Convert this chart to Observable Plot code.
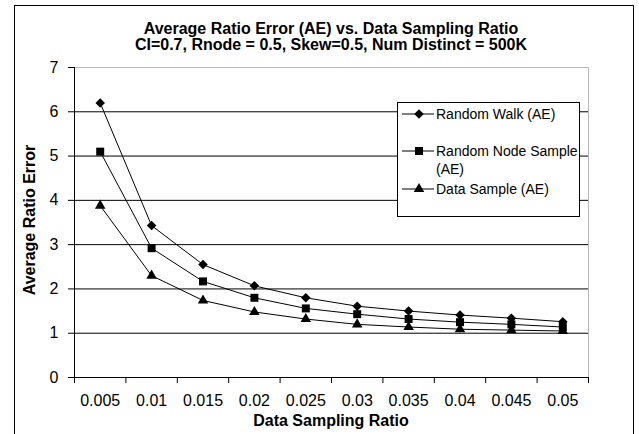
<!DOCTYPE html>
<html>
<head>
<meta charset="utf-8">
<script src="https://cdn.jsdelivr.net/npm/d3@7"></script>
<script src="https://cdn.jsdelivr.net/npm/@observablehq/plot@0.6"></script>
<style>
  html, body { margin: 0; padding: 0; background: #fff; }
  body { width: 639px; height: 434px; position: relative; overflow: hidden; font-family: "Liberation Sans", Arial, sans-serif; color: #000; }
  #frame { position: absolute; left: 14px; top: 5px; width: 620px; height: 460px; border: 1px solid #000; box-sizing: border-box; }
  #chart { position: absolute; left: 0; top: 0; }
  .title { position: absolute; left: 74px; width: 514px; text-align: center; font-weight: bold; font-size: 16px; line-height: 18px; white-space: nowrap; }
  #ytitle { position: absolute; left: 30px; top: 220px; transform: translate(-50%, -50%) rotate(-90deg); font-weight: bold; font-size: 16px; white-space: nowrap; }
  #xtitle { position: absolute; left: 74px; width: 514px; top: 412px; text-align: center; font-weight: bold; font-size: 16px; line-height: 18px; white-space: nowrap; }
  #legend { position: absolute; left: 397px; top: 102px; width: 183px; height: 115px; border: 1px solid #000; box-sizing: border-box; background: #fff; font-size: 14px; }
  .lg-item { position: absolute; left: 0; }
  .lg-item svg { position: absolute; left: 4px; top: 0; }
  .lg-text { position: absolute; left: 38px; white-space: nowrap; line-height: 18px; }
</style>
</head>
<body>
<div id="chart"></div>
<div id="frame"></div>
<div class="title" style="top:20px">Average Ratio Error (AE) vs. Data Sampling Ratio</div>
<div class="title" style="top:36px">CI=0.7, Rnode = 0.5, Skew=0.5, Num Distinct = 500K</div>
<div id="ytitle">Average Ratio Error</div>
<div id="xtitle">Data Sampling Ratio</div>
<div id="legend"></div>
<script>
// ---- data ----
const xVals = [0.005, 0.01, 0.015, 0.02, 0.025, 0.03, 0.035, 0.04, 0.045, 0.05];
const xLabels = ["0.005", "0.01", "0.015", "0.02", "0.025", "0.03", "0.035", "0.04", "0.045", "0.05"];
const randomWalk = [6.2, 3.43, 2.55, 2.07, 1.8, 1.61, 1.5, 1.41, 1.34, 1.26];
const randomNode = [5.1, 2.92, 2.17, 1.8, 1.56, 1.43, 1.32, 1.25, 1.2, 1.14];
const dataSample = [3.88, 2.3, 1.74, 1.48, 1.32, 1.2, 1.14, 1.09, 1.07, 1.05];
const seriesNames = ["Random Walk (AE)", "Random Node Sample (AE)", "Data Sample (AE)"];
const legendLines = [["Random Walk (AE)"], ["Random Node Sample", "(AE)"], ["Data Sample (AE)"]];
const yTicks = [0, 1, 2, 3, 4, 5, 6, 7];

// ---- build ----
const seriesValues = [randomWalk, randomNode, dataSample];
const symbols = ["diamond2", "square", "triangle"];
const radii = [4.3, 4.5, 3.9];
const d3Symbols = [d3.symbolDiamond2, d3.symbolSquare, d3.symbolTriangle];

const rows = [];
seriesValues.forEach((vals, s) => vals.forEach((v, i) => rows.push({series: seriesNames[s], x: xVals[i], y: v})));

const half = (xVals[1] - xVals[0]) / 2;
const bounds = xVals.map(v => v - half).concat([xVals[xVals.length - 1] + half]);
const labelMap = new Map(xVals.map((v, i) => [v, xLabels[i]]));

const dotMarks = seriesNames.map((name, s) =>
  Plot.dot(rows.filter(r => r.series === name), {x: "x", y: "y", symbol: () => symbols[s], r: radii[s], fill: "#000", stroke: "none"})
);

const chart = Plot.plot({
  width: 639,
  height: 434,
  marginLeft: 74,
  marginRight: 51,
  marginTop: 67,
  marginBottom: 57,
  style: {fontFamily: "'Liberation Sans', Arial, sans-serif", fontSize: "16px", color: "#000", background: "transparent"},
  x: {type: "linear", domain: [bounds[0], bounds[bounds.length - 1]]},
  y: {domain: [0, 7]},
  symbol: {type: "identity"},
  marks: [
    Plot.ruleY(yTicks.slice(1, -1), {stroke: "#000", strokeWidth: 1}),
    Plot.frame({anchor: "top", stroke: "#b8b8b8"}),
    Plot.frame({anchor: "right", stroke: "#b8b8b8"}),
    Plot.axisY({ticks: yTicks, tickSize: 6, tickPadding: 10, tickFormat: d => String(d), label: null}),
    Plot.axisX({ticks: bounds, tickSize: 6, tickFormat: () => "", label: null}),
    Plot.axisX({ticks: xVals, tickSize: 0, tickPadding: 17, tickFormat: d => labelMap.get(d), label: null}),
    Plot.frame({anchor: "left", stroke: "#000"}),
    Plot.frame({anchor: "bottom", stroke: "#000"}),
    Plot.line(rows, {x: "x", y: "y", z: "series", stroke: "#000", strokeWidth: 1}),
    ...dotMarks
  ]
});
document.getElementById("chart").appendChild(chart);

// ---- legend ----
const legend = document.getElementById("legend");
const rowTops = [2, 39, 77];
seriesNames.forEach((name, s) => {
  const item = document.createElement("div");
  item.className = "lg-item";
  item.style.top = rowTops[s] + "px";
  const sym = d3.symbol(d3Symbols[s], radii[s] * radii[s] * Math.PI)();
  item.innerHTML = `<svg width="34" height="18" viewBox="0 0 34 18">
      <line x1="0" y1="9" x2="32" y2="9" stroke="#000" stroke-width="1"/>
      <path d="${sym}" transform="translate(17,9)" fill="#000"/>
    </svg>
    <div class="lg-text" style="top:0">${legendLines[s].join("<br>")}</div>`;
  legend.appendChild(item);
});
</script>
</body>
</html>
